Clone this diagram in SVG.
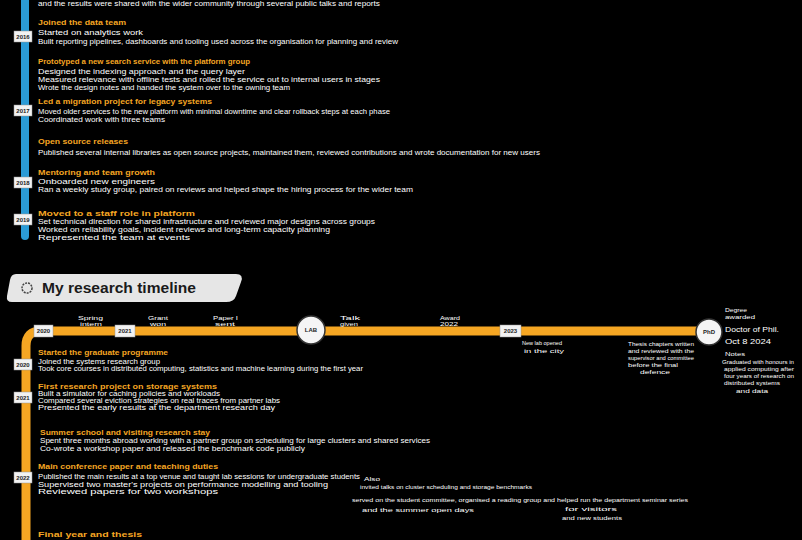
<svg xmlns="http://www.w3.org/2000/svg" width="802" height="540" viewBox="0 0 802 540">
<style>
.h{font-family:"Liberation Sans",Arial,sans-serif;font-size:8px;font-weight:bold;fill:#f5a623}
.t{font-family:"Liberation Sans",Arial,sans-serif;font-size:7px;fill:#ffffff}
.tag rect{fill:#f2f2f2;stroke:#999;stroke-width:0.5}
.tag text{font-family:"Liberation Sans",Arial,sans-serif;font-size:6px;font-weight:bold;fill:#222;text-anchor:middle}
.st circle{fill:#f5f5f5;stroke:#333;stroke-width:1.5}
.st text{font-family:"Liberation Sans",Arial,sans-serif;font-size:6px;font-weight:bold;fill:#222;text-anchor:middle}
.s{font-family:"Liberation Sans",Arial,sans-serif;font-size:5.5px;fill:#ffffff}
</style>
<rect width="802" height="540" fill="#000"/>
<g id="connectors">
<path d="M25 0 V236" stroke="#2b9bd6" stroke-width="8" stroke-linecap="round" fill="none"/>
<path d="M26 540 V346 Q26 331 41 331 H700" stroke="#f5a623" stroke-width="9" fill="none"/>
</g>
<g id="blue-section">
<text class="t" x="38" y="6" textLength="342" lengthAdjust="spacingAndGlyphs">and the results were shared with the wider community through several public talks and reports</text>
<text class="h" x="38" y="25" textLength="88" lengthAdjust="spacingAndGlyphs">Joined the data team</text>
<text class="t" x="38" y="35" textLength="105" lengthAdjust="spacingAndGlyphs">Started on analytics work</text>
<text class="t" x="38" y="44" textLength="360" lengthAdjust="spacingAndGlyphs">Built reporting pipelines, dashboards and tooling used across the organisation for planning and review</text>
<text class="h" x="38" y="64" textLength="212" lengthAdjust="spacingAndGlyphs">Prototyped a new search service with the platform group</text>
<text class="t" x="38" y="74" textLength="207" lengthAdjust="spacingAndGlyphs">Designed the indexing approach and the query layer</text>
<text class="t" x="38" y="82" textLength="342" lengthAdjust="spacingAndGlyphs">Measured relevance with offline tests and rolled the service out to internal users in stages</text>
<text class="t" x="38" y="90" textLength="252" lengthAdjust="spacingAndGlyphs">Wrote the design notes and handed the system over to the owning team</text>
<text class="h" x="38" y="104" textLength="174" lengthAdjust="spacingAndGlyphs">Led a migration project for legacy systems</text>
<text class="t" x="38" y="114" textLength="352" lengthAdjust="spacingAndGlyphs">Moved older services to the new platform with minimal downtime and clear rollback steps at each phase</text>
<text class="t" x="38" y="122" textLength="127" lengthAdjust="spacingAndGlyphs">Coordinated work with three teams</text>
<text class="h" x="38" y="144" textLength="90" lengthAdjust="spacingAndGlyphs">Open source releases</text>
<text class="t" x="38" y="155" textLength="502" lengthAdjust="spacingAndGlyphs">Published several internal libraries as open source projects, maintained them, reviewed contributions and wrote documentation for new users</text>
<text class="h" x="38" y="175" textLength="117" lengthAdjust="spacingAndGlyphs">Mentoring and team growth</text>
<text class="t" x="38" y="184" textLength="117" lengthAdjust="spacingAndGlyphs">Onboarded new engineers</text>
<text class="t" x="38" y="192" textLength="375" lengthAdjust="spacingAndGlyphs">Ran a weekly study group, paired on reviews and helped shape the hiring process for the wider team</text>
<text class="h" x="38" y="216" textLength="157" lengthAdjust="spacingAndGlyphs">Moved to a staff role in platform</text>
<text class="t" x="38" y="224" textLength="337" lengthAdjust="spacingAndGlyphs">Set technical direction for shared infrastructure and reviewed major designs across groups</text>
<text class="t" x="38" y="232" textLength="292" lengthAdjust="spacingAndGlyphs">Worked on reliability goals, incident reviews and long-term capacity planning</text>
<text class="t" x="38" y="240" textLength="152" lengthAdjust="spacingAndGlyphs">Represented the team at events</text>
</g>
<g id="tag-b1" class="tag"><rect x="14" y="31" width="18" height="11"/><text x="23" y="38.5">2016</text></g>
<g id="tag-b2" class="tag"><rect x="14" y="105" width="18" height="11"/><text x="23" y="112.5">2017</text></g>
<g id="tag-b3" class="tag"><rect x="14" y="177" width="18" height="11"/><text x="23" y="184.5">2018</text></g>
<g id="tag-b4" class="tag"><rect x="14" y="214" width="18" height="11"/><text x="23" y="221.5">2019</text></g>
<g id="banner">
<path d="M16 274 H236 Q244 274 241 282 L236 296 Q234 302 226 302 H12 Q6 302 7 296 L10 280 Q11 274 16 274 Z" fill="#e6e6e6"/>
<circle cx="27" cy="288" r="5" fill="none" stroke="#444" stroke-width="1.5" stroke-dasharray="2 1"/>
<text x="42" y="293" font-family="'Liberation Sans',Arial,sans-serif" font-size="14" font-weight="bold" fill="#1a1a1a" textLength="154" lengthAdjust="spacingAndGlyphs">My research timeline</text>
</g>
<g id="tag-o0" class="tag"><rect x="34" y="325" width="19" height="12"/><text x="43.5" y="333">2020</text></g>
<g id="tag-o1" class="tag"><rect x="115" y="325" width="20" height="12"/><text x="125" y="333">2021</text></g>
<g id="tag-o2" class="tag"><rect x="500" y="325" width="21" height="12"/><text x="510.5" y="333">2023</text></g>
<g id="station-1" class="st"><circle cx="311" cy="330" r="14"/><text x="311" y="332">LAB</text></g>
<g id="station-2" class="st"><circle cx="709" cy="332" r="13"/><text x="709" y="334">PhD</text></g>
<g id="line-labels">
<text class="s" x="78" y="320" textLength="25" lengthAdjust="spacingAndGlyphs">Spring</text>
<text class="s" x="80" y="326" textLength="22" lengthAdjust="spacingAndGlyphs">intern</text>
<text class="s" x="148" y="320" textLength="20" lengthAdjust="spacingAndGlyphs">Grant</text>
<text class="s" x="150" y="326" textLength="16" lengthAdjust="spacingAndGlyphs">won</text>
<text class="s" x="213" y="320" textLength="25" lengthAdjust="spacingAndGlyphs">Paper I</text>
<text class="s" x="215" y="326" textLength="20" lengthAdjust="spacingAndGlyphs">sent</text>
<text class="s" x="340" y="320" textLength="20" lengthAdjust="spacingAndGlyphs">Talk</text>
<text class="s" x="340" y="326" textLength="18" lengthAdjust="spacingAndGlyphs">given</text>
<text class="s" x="440" y="320" textLength="20" lengthAdjust="spacingAndGlyphs">Award</text>
<text class="s" x="440" y="326" textLength="18" lengthAdjust="spacingAndGlyphs">2022</text>
<text class="s" x="522" y="345" textLength="40" lengthAdjust="spacingAndGlyphs">New lab opened</text>
<text class="s" x="524" y="353" textLength="40" lengthAdjust="spacingAndGlyphs">in the city</text>
<text class="s" x="628" y="346" textLength="66" lengthAdjust="spacingAndGlyphs">Thesis chapters written</text>
<text class="s" x="628" y="353" textLength="66" lengthAdjust="spacingAndGlyphs">and reviewed with the</text>
<text class="s" x="628" y="360" textLength="66" lengthAdjust="spacingAndGlyphs">supervisor and committee</text>
<text class="s" x="628" y="367" textLength="50" lengthAdjust="spacingAndGlyphs">before the final</text>
<text class="s" x="640" y="374" textLength="30" lengthAdjust="spacingAndGlyphs">defence</text>
<text class="s" x="725" y="312" textLength="22" lengthAdjust="spacingAndGlyphs">Degree</text>
<text class="s" x="725" y="319" textLength="30" lengthAdjust="spacingAndGlyphs">awarded</text>
<text class="t" x="725" y="332" textLength="54" lengthAdjust="spacingAndGlyphs">Doctor of Phil.</text>
<text class="t" x="725" y="344" textLength="46" lengthAdjust="spacingAndGlyphs">Oct 8 2024</text>
<text class="s" x="725" y="356" textLength="20" lengthAdjust="spacingAndGlyphs">Notes</text>
<text class="s" x="722" y="364" textLength="72" lengthAdjust="spacingAndGlyphs">Graduated with honours in</text>
<text class="s" x="724" y="371" textLength="70" lengthAdjust="spacingAndGlyphs">applied computing after</text>
<text class="s" x="724" y="378" textLength="70" lengthAdjust="spacingAndGlyphs">four years of research on</text>
<text class="s" x="724" y="385" textLength="56" lengthAdjust="spacingAndGlyphs">distributed systems</text>
<text class="s" x="736" y="393" textLength="32" lengthAdjust="spacingAndGlyphs">and data</text>
</g>
<g id="orange-section">
<text class="h" x="38" y="355" textLength="130" lengthAdjust="spacingAndGlyphs">Started the graduate programme</text>
<text class="t" x="38" y="364" textLength="122" lengthAdjust="spacingAndGlyphs">Joined the systems research group</text>
<text class="t" x="38" y="371" textLength="325" lengthAdjust="spacingAndGlyphs">Took core courses in distributed computing, statistics and machine learning during the first year</text>
<text class="h" x="38" y="389" textLength="179" lengthAdjust="spacingAndGlyphs">First research project on storage systems</text>
<text class="t" x="38" y="396" textLength="182" lengthAdjust="spacingAndGlyphs">Built a simulator for caching policies and workloads</text>
<text class="t" x="38" y="403" textLength="242" lengthAdjust="spacingAndGlyphs">Compared several eviction strategies on real traces from partner labs</text>
<text class="t" x="38" y="410" textLength="237" lengthAdjust="spacingAndGlyphs">Presented the early results at the department research day</text>
<text class="h" x="40" y="435" textLength="170" lengthAdjust="spacingAndGlyphs">Summer school and visiting research stay</text>
<text class="t" x="40" y="443" textLength="390" lengthAdjust="spacingAndGlyphs">Spent three months abroad working with a partner group on scheduling for large clusters and shared services</text>
<text class="t" x="40" y="451" textLength="265" lengthAdjust="spacingAndGlyphs">Co-wrote a workshop paper and released the benchmark code publicly</text>
<text class="h" x="38" y="469" textLength="180" lengthAdjust="spacingAndGlyphs">Main conference paper and teaching duties</text>
<text class="t" x="38" y="479" textLength="322" lengthAdjust="spacingAndGlyphs">Published the main results at a top venue and taught lab sessions for undergraduate students</text>
<text class="t" x="38" y="487" textLength="290" lengthAdjust="spacingAndGlyphs">Supervised two master's projects on performance modelling and tooling</text>
<text class="t" x="38" y="494" textLength="180" lengthAdjust="spacingAndGlyphs">Reviewed papers for two workshops</text>
<text class="s" x="364" y="481" textLength="16" lengthAdjust="spacingAndGlyphs">Also</text>
<text class="s" x="360" y="489" textLength="172" lengthAdjust="spacingAndGlyphs">invited talks on cluster scheduling and storage benchmarks</text>
<text class="s" x="352" y="502" textLength="336" lengthAdjust="spacingAndGlyphs">served on the student committee, organised a reading group and helped run the department seminar series</text>
<text class="s" x="362" y="512" textLength="112" lengthAdjust="spacingAndGlyphs">and the summer open days</text>
<text class="s" x="565" y="511" textLength="52" lengthAdjust="spacingAndGlyphs">for visitors</text>
<text class="s" x="562" y="520" textLength="60" lengthAdjust="spacingAndGlyphs">and new students</text>
<text class="h" x="38" y="537" textLength="104" lengthAdjust="spacingAndGlyphs">Final year and thesis</text>
</g>
<g id="tag-o3" class="tag"><rect x="14" y="359" width="18" height="11"/><text x="23" y="366.5">2020</text></g>
<g id="tag-o4" class="tag"><rect x="14" y="392" width="18" height="11"/><text x="23" y="399.5">2021</text></g>
<g id="tag-o5" class="tag"><rect x="14" y="472" width="18" height="11"/><text x="23" y="479.5">2022</text></g>
</svg>
